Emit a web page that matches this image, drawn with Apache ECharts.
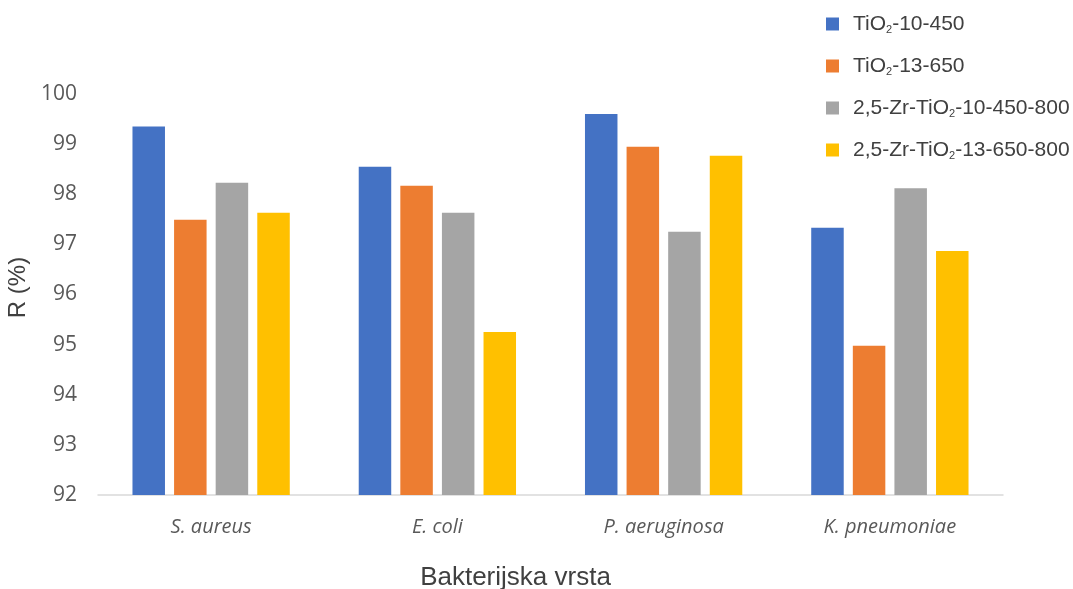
<!DOCTYPE html>
<html>
<head>
<meta charset="utf-8">
<script src="https://cdn.jsdelivr.net/npm/echarts@6/dist/echarts.min.js"></script>
<style>html,body{margin:0;padding:0;background:#fff}#c{width:1073px;height:589px}</style>
</head>
<body>
<div id="c"></div>
<script>
var categories = ['S. aureus', 'E. coli', 'P. aeruginosa', 'K. pneumoniae'];
var seriesNames = ['TiO2-10-450', 'TiO2-13-650', '2,5-Zr-TiO2-10-450-800', '2,5-Zr-TiO2-13-650-800'];
var s1 = [99.35, 98.55, 99.60, 97.33];
var s2 = [97.49, 98.17, 98.95, 94.98];
var s3 = [98.23, 97.63, 97.25, 98.12];
var s4 = [97.63, 95.25, 98.77, 96.87];
var colors = ['#4472c4', '#ed7d31', '#a5a5a5', '#ffc000'];
var yTicks = [92, 93, 94, 95, 96, 97, 98, 99, 100];

var chart = echarts.init(document.getElementById('c'));
var data = [s1, s2, s3, s4];
var series = data.map(function (d, i) {
  return {
    name: seriesNames[i], type: 'bar', data: d, barWidth: 32.5, barGap: '28%',
    itemStyle: { color: colors[i] }
  };
});
chart.setOption({
  animation: false,
  color: colors,
  grid: { left: 98, right: 70, top: 94, bottom: 94, containLabel: false, outerBoundsMode: 'none' },
  legend: {
    orient: 'vertical', left: 821, top: 8, itemWidth: 13, itemHeight: 13, itemGap: 20,
    icon: 'rect',
    data: seriesNames,
    formatter: function (n) { return n.replace('TiO2', 'TiO{sub|2}'); },
    textStyle: {
      fontFamily: 'Liberation Sans', fontSize: 21, lineHeight: 22, color: '#404040', padding: [0, 0, 0, 9],
      rich: { sub: { fontSize: 11, lineHeight: 22, color: '#404040', fontFamily: 'Liberation Sans', verticalAlign: 'bottom', padding: [9, 0, 0, 0] } }
    }
  },
  xAxis: {
    type: 'category', data: categories,
    axisLine: { lineStyle: { color: '#d9d9d9', width: 1.5 } },
    axisTick: { show: false },
    axisLabel: { fontFamily: 'Open Sans', fontStyle: 'italic', fontSize: 20, color: '#595959', margin: 22 },
    name: 'Bakterijska vrsta', nameLocation: 'middle', nameGap: 70,
    nameTextStyle: { fontFamily: 'Liberation Sans', fontSize: 26, color: '#404040', padding: [0, 70, 0, 0] }
  },
  yAxis: {
    type: 'value', min: 92, max: 100, interval: 1,
    splitLine: { show: false },
    axisLine: { show: false }, axisTick: { show: false },
    axisLabel: { fontFamily: 'Open Sans', fontSize: 21, color: '#595959', margin: 21 },
    name: 'R (%)', nameLocation: 'middle', nameGap: 57, nameRotate: 90,
    nameTextStyle: { fontFamily: 'Liberation Sans', fontSize: 24, color: '#404040', padding: [0, 0, 0, 14] }
  },
  series: series
});
</script>
</body>
</html>
